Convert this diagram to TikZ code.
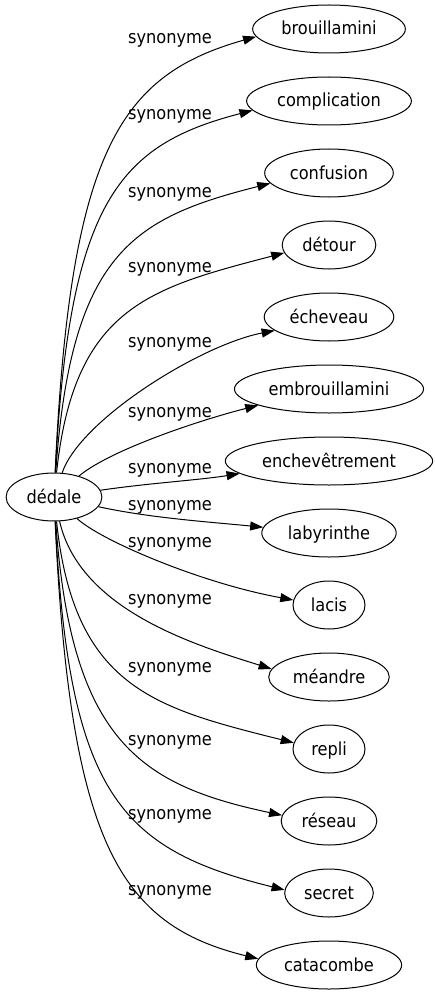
\documentclass[tikz,border=0pt]{standalone}
\usepackage{fontspec}
\setmainfont{DejaVu Sans Condensed}
\usetikzlibrary{shapes,arrows.meta}
\tikzstyle{line} = [draw, line width=1pt, -{Triangle[length=13pt,width=9pt]}]
\tikzstyle{word} = [draw, ellipse, line width=1pt, inner xsep=6.4pt, inner ysep=0pt, minimum width=72pt, minimum height=48pt, text height=14pt, text depth=2pt]
\tikzstyle{rel} = [inner sep=0pt, text height=14pt, text depth=2pt]

\begin{document}
\begin{tikzpicture}[x=1pt,y=-1pt]
\fontsize{18}{22}\selectfont
\useasboundingbox (0,0) rectangle (435,995);
 \node [word] (DD) at (54,497) {dédale};
 \node [word] (BR) at (329,29) {brouillamini};
 \node [word] (CP) at (329,101) {complication};
 \node [word] (CF) at (329,173) {confusion};
 \node [word] (DT) at (329,245) {détour};
 \node [word] (EC) at (329,317) {écheveau};
 \node [word] (EM) at (329,389) {embrouillamini};
 \node [word] (EN) at (329,461) {enchevêtrement};
 \node [word] (LB) at (329,533) {labyrinthe};
 \node [word] (LC) at (329,605) {lacis};
 \node [word] (MD) at (329,677) {méandre};
 \node [word] (RP) at (329,749) {repli};
 \node [word] (RS) at (329,821) {réseau};
 \node [word] (SC) at (329,893) {secret};
 \node [word] (CT) at (329,965) {catacombe};
 % relation labels
 \node [rel] (L1) at (170,38) {synonyme};
 \node [rel] (L2) at (170,114) {synonyme};
 \node [rel] (L3) at (170,191) {synonyme};
 \node [rel] (L4) at (170,266) {synonyme};
 \node [rel] (L5) at (170,341) {synonyme};
 \node [rel] (L6) at (170,411) {synonyme};
 \node [rel] (L7) at (170,467) {synonyme};
 \node [rel] (L8) at (170,504) {synonyme};
 \node [rel] (L9) at (170,541) {synonyme};
 \node [rel] (L10) at (170,598) {synonyme};
 \node [rel] (L11) at (170,666) {synonyme};
 \node [rel] (L12) at (170,739) {synonyme};
 \node [rel] (L13) at (170,813) {synonyme};
 \node [rel] (L14) at (170,889) {synonyme};
 % edges
 \path [line] (DD) .. controls (70,150) and (120,75) .. (BR.186);
 \path [line] (DD) .. controls (69,201) and (119,145) .. (CP.187);
 \path [line] (DD) .. controls (71,253) and (133,218) .. (CF.190);
 \path [line] (DD) .. controls (74,307) and (150,288) .. (DT.190);
 \path [line] (DD) .. controls (80,420) and (200,345) .. (EC.194);
 \path [line] (DD) .. controls (110,450) and (200,420) .. (EM.193);
 \path [line] (DD) .. controls (150,483) and (200,480) .. (EN.188);
 \path [line] (DD) .. controls (150,518) and (210,522) .. (LB.175);
 \path [line] (DD) .. controls (100,540) and (200,583) .. (LC.172);
 \path [line] (DD) .. controls (80,610) and (195,645) .. (MD.172);
 \path [line] (DD) .. controls (74,688) and (155,708) .. (RP.170);
 \path [line] (DD) .. controls (71,741) and (140,785) .. (RS.173);
 \path [line] (DD) .. controls (69,793) and (119,849) .. (SC.176);
 \path [line] (DD) .. controls (70,844) and (120,925) .. (CT.175);
\end{tikzpicture}
\end{document}
